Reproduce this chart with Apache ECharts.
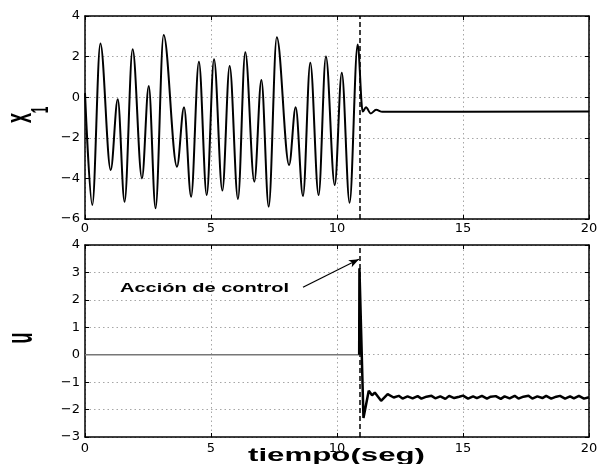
<!DOCTYPE html>
<html><head><meta charset="utf-8">
<script src="https://cdn.jsdelivr.net/npm/echarts@6/dist/echarts.min.js"></script>
<style>html,body{margin:0;padding:0;background:#fff}#c{width:601px;height:464px}</style>
</head><body><div id="c"></div>
<script>
// ---- data ----
const x1Time = [0, 0.29, 0.61, 1.02, 1.30, 1.57, 1.89, 2.26, 2.53, 2.80, 3.12, 3.65, 3.93, 4.21, 4.52, 4.83, 5.12, 5.45, 5.74, 6.07, 6.36, 6.72, 7.00, 7.29, 7.61, 8.10, 8.36, 8.65, 8.94, 9.27, 9.56, 9.91, 10.19, 10.50, 10.82, 11.02, 11.15, 11.34, 11.55, 11.80, 20];
const x1Values = [0.2, -5.31, 2.65, -3.59, -0.1, -5.15, 2.36, -4.0, 0.55, -5.47, 3.06, -3.42, -0.5, -4.9, 1.75, -4.82, 1.87, -4.6, 1.54, -5.01, 2.21, -4.16, 0.85, -5.39, 2.95, -3.34, -0.5, -4.87, 1.7, -4.82, 2.0, -4.33, 1.21, -5.2, 2.6, -0.71, -0.5, -0.8, -0.62, -0.72, -0.7];
const uTime = [0, 10.88, 10.89, 11.05, 11.26, 11.39, 11.50, 11.75, 12.01, 12.25,
  12.45, 12.6, 12.8, 13.0, 13.2, 13.35, 13.55, 13.75, 13.9, 14.1, 14.3, 14.45, 14.65, 14.85, 15.0, 15.2, 15.4, 15.55, 15.75, 15.95, 16.1, 16.3, 16.5, 16.65, 16.85, 17.05, 17.2, 17.4, 17.6, 17.75, 17.95, 18.15, 18.3, 18.5, 18.7, 18.85, 19.05, 19.25, 19.4, 19.6, 19.8, 20.0];
const uValues = [0, 0, 3.15, -2.31, -1.31, -1.48, -1.38, -1.68, -1.44, -1.56,
  -1.50, -1.60, -1.52, -1.59, -1.51, -1.60, -1.53, -1.50, -1.59, -1.52, -1.61, -1.50, -1.58, -1.53, -1.49, -1.60, -1.52, -1.58, -1.50, -1.60, -1.53, -1.51, -1.61, -1.52, -1.59, -1.50, -1.60, -1.53, -1.50, -1.60, -1.52, -1.58, -1.50, -1.60, -1.53, -1.50, -1.60, -1.52, -1.59, -1.50, -1.60, -1.55];
const xTickLabels = [0, 5, 10, 15, 20];
const x1TickLabels = [-6, -4, -2, 0, 2, 4];
const uTickLabels = [-3, -2, -1, 0, 1, 2, 3, 4];
const switchTime = 10.9;
const annotationText = 'Acción de control';
const arrowFrom = [8.65, 2.46];
const arrowTo = [10.87, 3.48];

// ---- helpers ----
const TF = "'Liberation Sans', Arial, Helvetica, sans-serif";
const TICKF = "'DejaVu Sans', sans-serif";
const mctx = document.createElement('canvas').getContext('2d');
function textW(t, font) { mctx.font = font; return mctx.measureText(t).width; }
function fmt(v) { return String(v).replace('-', '\u2212'); }
const zip = (a, b) => a.map((v, i) => [v, b[i]]);
const step = arr => arr[1] - arr[0];

// split u into the idle part (before the switch) and the controlled part
const uAll = zip(uTime, uValues);
const splitIdx = uTime.findIndex(t => t >= switchTime - 0.025);
const uIdle = uAll.slice(0, splitIdx + 1);
const uCtrl = uAll.slice(splitIdx);

const dotted = { color: '#a6a6a6', width: 1, type: [1.5, 3] };
const frameLine = { show: true, onZero: false, lineStyle: { color: '#000', width: 1.5 } };
const tickIn = { show: true, inside: true, length: 4, lineStyle: { color: '#000', width: 1 } };

function xPair(gi, margin) {
  const base = { type: 'value', gridIndex: gi, min: xTickLabels[0], max: xTickLabels[xTickLabels.length - 1], interval: step(xTickLabels) };
  return [
    Object.assign({}, base, { position: 'bottom', axisLine: frameLine, axisTick: tickIn,
      axisLabel: { margin: margin, color: '#000', fontSize: 13, fontFamily: TICKF, formatter: fmt },
      splitLine: { show: true, lineStyle: dotted } }),
    Object.assign({}, base, { position: 'top', axisLine: frameLine, axisTick: tickIn,
      axisLabel: { show: false }, splitLine: { show: false } })
  ];
}
function yPair(gi, ticks) {
  const base = { type: 'value', gridIndex: gi, min: ticks[0], max: ticks[ticks.length - 1], interval: step(ticks) };
  return [
    Object.assign({}, base, { position: 'left', axisLine: frameLine, axisTick: tickIn,
      axisLabel: { margin: 5, color: '#000', fontSize: 13, fontFamily: TICKF, formatter: fmt },
      splitLine: { show: true, lineStyle: dotted } }),
    Object.assign({}, base, { position: 'right', axisLine: frameLine, axisTick: tickIn,
      axisLabel: { show: false }, splitLine: { show: false } })
  ];
}

// ---- stretched titles (the reference text is drawn wide) ----
const fTiempo = 'bold 19px ' + TF;
const fAnn = 'bold 13px ' + TF;
const fX = 'bold 18px ' + TF;
const fSub = 'bold 12px ' + TF;
const fU = 'bold 18px ' + TF;
const MID = 0.3465;
const graphics = [
  { type: 'text', x: 248, y: 462 - MID * 19, scaleX: 177 / textW('tiempo(seg)', fTiempo), z: 100,
    style: { text: 'tiempo(seg)', font: fTiempo, fill: '#000', align: 'left', verticalAlign: 'middle' } },
  { type: 'text', x: 120, y: 293 - MID * 13, scaleX: 169 / textW(annotationText, fAnn), z: 100,
    style: { text: annotationText, font: fAnn, fill: '#000', align: 'left', verticalAlign: 'middle' } },
  { type: 'text', x: 21.5, y: 118, rotation: Math.PI / 2, scaleY: 2.0, z: 100,
    style: { text: 'x', font: fX, fill: '#000', align: 'center', verticalAlign: 'middle' } },
  { type: 'text', x: 41, y: 110, rotation: Math.PI / 2, scaleY: 2.0, z: 100,
    style: { text: '1', font: fSub, fill: '#000', align: 'center', verticalAlign: 'middle' } },
  { type: 'text', x: 22, y: 338, rotation: Math.PI / 2, scaleY: 2.0, z: 100,
    style: { text: 'u', font: fU, fill: '#000', align: 'center', verticalAlign: 'middle' } }
];

const dashedMark = (extra) => ({ silent: true, symbol: ['none', 'none'], label: { show: false },
  lineStyle: { color: '#000', width: 1.5, type: [5, 3] },
  data: [{ xAxis: switchTime }].concat(extra || []) });

const chart = echarts.init(document.getElementById('c'), null, { renderer: 'canvas' });
chart.setOption({
  animation: false,
  backgroundColor: '#fff',
  grid: [
    { left: 85, top: 16, width: 504, height: 203 },
    { left: 85, top: 245, width: 504, height: 192 }
  ],
  xAxis: [].concat(xPair(0, 3), xPair(1, 5)),
  yAxis: [].concat(yPair(0, x1TickLabels), yPair(1, uTickLabels)),
  series: [
    { type: 'line', name: 'x1', xAxisIndex: 0, yAxisIndex: 0, data: zip(x1Time, x1Values),
      showSymbol: false, smooth: 0.35, smoothMonotone: 'x', silent: true,
      lineStyle: { color: '#000', width: 2 },
      markLine: dashedMark() },
    { type: 'line', name: 'u idle', xAxisIndex: 2, yAxisIndex: 2, data: uIdle,
      showSymbol: false, silent: true,
      lineStyle: { color: '#777', width: 1.5 } },
    { type: 'line', name: 'u', xAxisIndex: 2, yAxisIndex: 2, data: uCtrl,
      showSymbol: false, silent: true,
      lineStyle: { color: '#000', width: 2.5 },
      markLine: dashedMark([
        [ { coord: arrowFrom, symbol: 'none', lineStyle: { type: 'solid', width: 1.2, color: '#000' } },
          { coord: arrowTo, symbol: 'arrow', symbolSize: [6, 10] } ]
      ]) }
  ],
  graphic: graphics
});
</script>
</body></html>
